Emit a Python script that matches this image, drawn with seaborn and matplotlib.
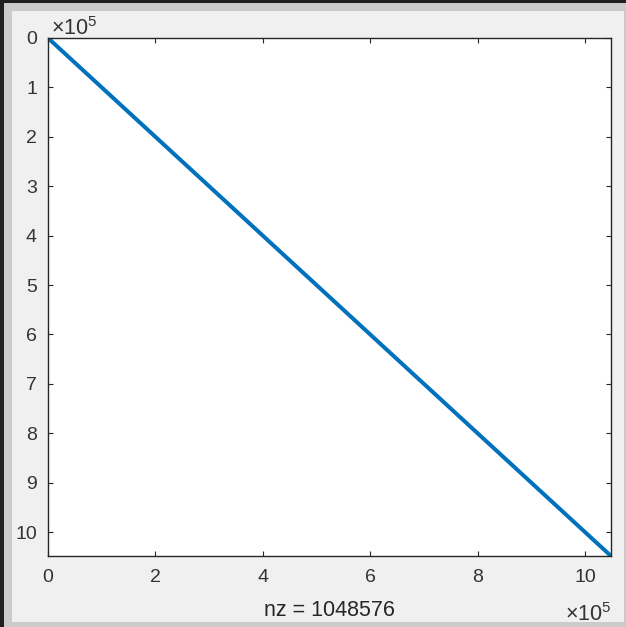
import numpy as np
import pandas as pd
import matplotlib
matplotlib.use("Agg")
import matplotlib.pyplot as plt
from matplotlib.patches import Rectangle
from matplotlib.ticker import FixedLocator, FixedFormatter
import seaborn as sns

# ---- data: spy plot of an identity matrix (nonzeros on the diagonal) ----
n = 1048576
nz_rows = [1, n]          # first and last nonzero row index
nz_cols = [1, n]          # first and last nonzero column index
nz_count = 1048576
x_tick_values = [0, 200000, 400000, 600000, 800000, 1000000]
x_tick_labels = ["0", "2", "4", "6", "8", "10"]
y_tick_values = [0, 100000, 200000, 300000, 400000, 500000,
                 600000, 700000, 800000, 900000, 1000000]
y_tick_labels = ["0", "1", "2", "3", "4", "5", "6", "7", "8", "9", "10"]
exponent_label = r"$\times\mathregular{10^{5}}$"
xlabel_text = f"nz = {nz_count}"

sns.set_theme(style="white")
plt.rcParams["font.family"] = ["Liberation Sans", "DejaVu Sans"]
plt.rcParams["mathtext.fontset"] = "custom"
plt.rcParams["mathtext.rm"] = "Liberation Sans"

W, H = 626, 627
fig = plt.figure(figsize=(W / 100, H / 100), dpi=100)
fig.patch.set_facecolor("#1f1f1f")
fig.patches.append(Rectangle((4 / W, 0), 622 / W, 624 / H, transform=fig.transFigure,
                             facecolor="#cbcbcb", edgecolor="none", zorder=-10))
fig.patches.append(Rectangle((12 / W, 5 / H), 612 / W, 611 / H, transform=fig.transFigure,
                             facecolor="#f0f0f0", edgecolor="none", zorder=-9))

ax = fig.add_axes([48 / W, 71 / H, 563 / W, 518 / H])
ax.set_facecolor("white")

df = pd.DataFrame({"col": nz_cols, "row": nz_rows})
sns.lineplot(data=df, x="col", y="row", ax=ax, color="#0072BD", linewidth=2.9,
             solid_capstyle="round", estimator=None, sort=False)

ax.set_xlim(0, n + 1)
ax.set_ylim(n + 1, 0)

ax.xaxis.set_major_locator(FixedLocator(x_tick_values))
ax.xaxis.set_major_formatter(FixedFormatter(x_tick_labels))
ax.yaxis.set_major_locator(FixedLocator(y_tick_values))
ax.yaxis.set_major_formatter(FixedFormatter(y_tick_labels))

ax.tick_params(axis="both", which="both", direction="in", length=3.5, width=0.8,
               color="#262626", labelcolor="#333333", labelsize=14,
               top=True, right=True, bottom=True, left=True)
ax.tick_params(axis="y", pad=8)
ax.tick_params(axis="x", pad=9)

for s in ax.spines.values():
    s.set_visible(True)
    s.set_color("#262626")
    s.set_linewidth(1.0)

ax.set_ylabel("")
ax.set_xlabel(xlabel_text, fontsize=15.5, color="#262626")
ax.xaxis.label.set_va("baseline")
ax.xaxis.set_label_coords(0.5, -60 / 518)

# exponent labels (MATLAB style)
fig.text(51 / W, (H - 35) / H, exponent_label, ha="left", va="baseline",
         fontsize=15.5, color="#333333")
fig.text(611 / W, (H - 621) / H, exponent_label, ha="right", va="baseline",
         fontsize=15.5, color="#333333")

fig.savefig("out.png", dpi=100, facecolor=fig.get_facecolor())
